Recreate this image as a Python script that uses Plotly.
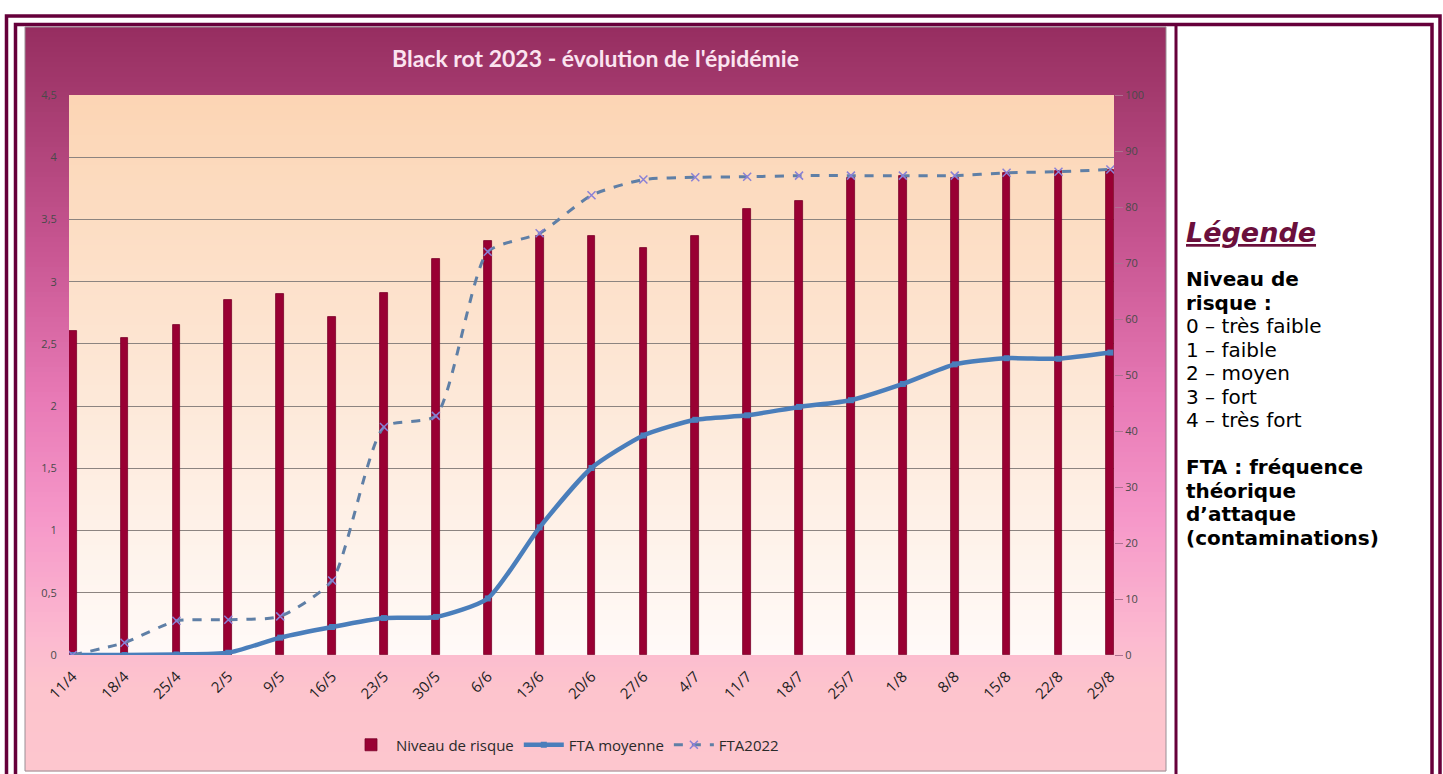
import plotly.graph_objects as go

# ---------------- data ----------------
categories = ["11/4", "18/4", "25/4", "2/5", "9/5", "16/5", "23/5", "30/5", "6/6", "13/6",
              "20/6", "27/6", "4/7", "11/7", "18/7", "25/7", "1/8", "8/8", "15/8", "22/8", "29/8"]
niveau_risque = [2.6, 2.55, 2.65, 2.85, 2.9, 2.72, 2.91, 3.18, 3.33, 3.37,
                 3.37, 3.27, 3.37, 3.58, 3.65, 3.83, 3.85, 3.83, 3.87, 3.89, 3.9]
fta_moyenne = [0, 0, 0.1, 0.4, 3.1, 5.0, 6.6, 6.8, 10.1, 22.8,
               33.4, 39.2, 42.0, 42.8, 44.3, 45.5, 48.4, 51.9, 53.0, 52.9, 54.0]
fta_2022 = [0, 2.2, 6.1, 6.3, 6.9, 13.3, 40.7, 42.7, 72.0, 75.3,
            82.1, 84.9, 85.3, 85.4, 85.6, 85.6, 85.6, 85.6, 86.1, 86.3, 86.7]
left_ticks = [0, 0.5, 1, 1.5, 2, 2.5, 3, 3.5, 4, 4.5]
right_ticks = [0, 10, 20, 30, 40, 50, 60, 70, 80, 90, 100]

legend_lines = [
    ("Niveau de", True), ("risque :", True),
    ("0 – très faible", False), ("1 – faible", False), ("2 – moyen", False),
    ("3 – fort", False), ("4 – très fort", False), ("", False),
    ("FTA : fréquence", True), ("théorique", True), ("d’attaque", True),
    ("(contaminations)", True),
]

# ---------------- geometry ----------------
W, H = 1443, 774
L, R, T, B = 69, 329, 95, 119
PW, PH = W - L - R, H - T - B


def px(xp):
    return (xp - L) / PW


def py(yp):
    return (H - B - yp) / PH


def lerp_color(stops, y):
    for (y0, c0), (y1, c1) in zip(stops, stops[1:]):
        if y0 <= y <= y1:
            t = (y - y0) / (y1 - y0) if y1 > y0 else 0
            c = [round(a + (b - a) * t) for a, b in zip(c0, c1)]
            return "rgb(%d,%d,%d)" % tuple(c)
    c = stops[-1][1]
    return "rgb(%d,%d,%d)" % tuple(c)


shapes = []
MAROON = "#66003a"

# chart background gradient
chart_stops = [(27, (150, 46, 96)), (95, (164, 58, 110)), (250, (200, 86, 146)),
               (400, (232, 122, 182)), (520, (246, 152, 201)), (640, (252, 186, 208)),
               (690, (253, 196, 205)), (775, (253, 198, 206))]
x0c, x1c, y0c, y1c = 25, 1166, 27, 771
step = 5
yy = y0c
while yy < y1c:
    y2 = min(yy + step, y1c)
    shapes.append(dict(type="rect", xref="paper", yref="paper", layer="below",
                       x0=px(x0c), x1=px(x1c), y0=py(yy), y1=py(y2 + 0.6),
                       line=dict(width=0), fillcolor=lerp_color(chart_stops, yy + step / 2)))
    yy = y2

# plot area gradient
plot_stops = [(95, (252, 213, 180)), (380, (253, 231, 214)), (655, (255, 250, 248))]
yy = 95
while yy < 655:
    y2 = min(yy + step, 655)
    shapes.append(dict(type="rect", xref="paper", yref="paper", layer="below",
                       x0=0, x1=1, y0=py(yy), y1=py(y2 + 0.6) if y2 < 655 else 0,
                       line=dict(width=0), fillcolor=lerp_color(plot_stops, yy + step / 2)))
    yy = y2

# chart border
shapes.append(dict(type="rect", xref="paper", yref="paper", layer="below",
                   x0=px(x0c), x1=px(x1c), y0=py(y0c), y1=py(y1c),
                   line=dict(color="#9a8f95", width=1), fillcolor="rgba(0,0,0,0)"))

# page double border + separator
shapes.append(dict(type="rect", xref="paper", yref="paper", layer="above",
                   x0=px(6.5), x1=px(1440), y0=py(16), y1=py(790),
                   line=dict(color=MAROON, width=3.5), fillcolor="rgba(0,0,0,0)"))
shapes.append(dict(type="rect", xref="paper", yref="paper", layer="above",
                   x0=px(15.5), x1=px(1432), y0=py(24.5), y1=py(790),
                   line=dict(color=MAROON, width=3.5), fillcolor="rgba(0,0,0,0)"))
shapes.append(dict(type="line", xref="paper", yref="paper", layer="above",
                   x0=px(1176), x1=px(1176), y0=py(24.5), y1=py(790),
                   line=dict(color=MAROON, width=3)))

annotations = []
# chart title
annotations.append(dict(text="<b>Black rot 2023 - évolution de l'épidémie</b>",
                        xref="paper", yref="paper", x=px(595), y=py(58),
                        xanchor="center", yanchor="middle", showarrow=False,
                        font=dict(family="Lato", size=23, color="#fbe4f0")))

# right panel legend text
annotations.append(dict(text="<b><i><u>Légende</u></i></b>", xref="paper", yref="paper",
                        x=px(1184), y=py(232), xanchor="left", yanchor="middle",
                        showarrow=False, font=dict(family="DejaVu Sans", size=27, color="#6b0f3c")))
y_line = 279
for txt, bold in legend_lines:
    if txt:
        annotations.append(dict(text=("<b>%s</b>" % txt) if bold else txt,
                                xref="paper", yref="paper", x=px(1184), y=py(y_line),
                                xanchor="left", yanchor="middle", showarrow=False,
                                font=dict(family="DejaVu Sans", size=20, color="#000000")))
    y_line += 23.5

# ---------------- traces ----------------
xs = list(range(len(categories)))
fig = go.Figure()
fig.add_trace(go.Bar(x=xs, y=niveau_risque, name="Niveau de risque", width=0.15,
                     marker=dict(color="#990033", line=dict(color="#7a0029", width=0.8)),
                     yaxis="y"))
fig.add_trace(go.Scatter(x=xs, y=fta_moyenne, name="FTA moyenne", mode="lines+markers",
                         line=dict(color="#4a7ebb", width=4.5, shape="spline", smoothing=0.6),
                         marker=dict(symbol="square", size=6, color="#4a7ebb"),
                         yaxis="y2"))
fig.add_trace(go.Scatter(x=xs, y=fta_2022, name="FTA2022", mode="lines+markers",
                         line=dict(color="#5f7fa6", width=3, dash="dash", shape="spline", smoothing=0.6),
                         marker=dict(symbol="x-thin-open", size=8, color="#8a80d6",
                                     line=dict(color="#8a80d6", width=1.5)),
                         yaxis="y2"))

fig.update_layout(
    width=W, height=H,
    margin=dict(l=L, r=R, t=T, b=B, pad=0),
    paper_bgcolor="white", plot_bgcolor="rgba(0,0,0,0)",
    separators=", ",
    font=dict(family="Open Sans", color="#404040"),
    shapes=shapes, annotations=annotations,
    bargap=0,
    xaxis=dict(tickmode="array", tickvals=xs, ticktext=categories, tickangle=-45,
               range=[-0.07, 20.07], showgrid=False, zeroline=False, showline=False,
               ticks="outside", ticklen=6, tickcolor="rgba(0,0,0,0)",
               tickfont=dict(family="Open Sans", size=15, color="#1e1e1e")),
    yaxis=dict(range=[0, 4.5], tickvals=left_ticks, showgrid=False, zeroline=False,
               showline=False, ticks="outside", ticklen=9, tickcolor="rgba(0,0,0,0)",
               tickfont=dict(family="Open Sans", size=11, color="#4a4a4a"),
               minor=dict(tickvals=left_ticks[1:-1], showgrid=True, gridcolor="#8c8480",
                          gridwidth=1, ticks="")),
    yaxis2=dict(range=[0, 100], tickvals=right_ticks, overlaying="y", side="right",
                showgrid=False, zeroline=False, showline=False, ticks="outside", ticklen=8,
                tickcolor="#b07090",
                tickfont=dict(family="Open Sans", size=11, color="#4a4a4a")),
    legend=dict(orientation="h", x=px(565), y=py(745), xanchor="center", yanchor="middle",
                bgcolor="rgba(0,0,0,0)", font=dict(family="Open Sans", size=15, color="#2a2a2a"),
                itemwidth=40, traceorder="normal"),
    showlegend=True,
)

fig.write_html("out.html", config={"displayModeBar": False},
               post_script="document.body.style.margin='0';document.body.style.overflow='hidden';")
